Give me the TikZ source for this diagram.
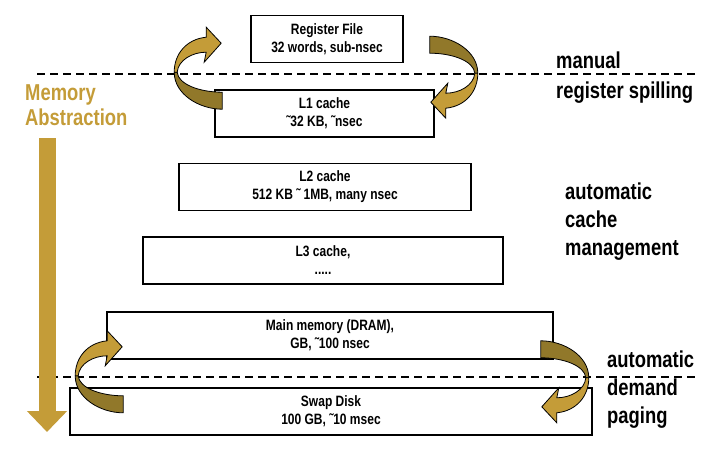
\documentclass[tikz,border=0pt]{standalone}
\usepackage{fontspec}
\setmainfont{Liberation Sans}[FakeStretch=0.8]
\usepackage{tikz}
\usetikzlibrary{arrows.meta}
\usetikzlibrary{calc}
\definecolor{gold}{RGB}{196,156,56}
\definecolor{darkgold}{RGB}{145,120,42}

\begin{document}
\begin{tikzpicture}
[
    x = 1pt, y = -1pt,
    every node/.append style = {font = \bfseries},
    tier/.style = {draw, line width = 1.6pt, align = center, inner sep = 0pt, minimum height = 47pt, font = \bfseries\fontsize{15}{18}\selectfont},
    remark/.style = {anchor = base west, align = left, inner sep = 0pt, font = \bfseries\fontsize{23}{28}\selectfont},
    border/.style = {line width = 1.5pt, dash pattern = on 8pt off 5pt},
    pics/spill/.style = {code = {
        \filldraw[fill = darkgold, line width = 0.8pt] (0,0) .. controls (0,22) and (25,37) .. (48,37) -- (48,20) .. controls (25,20) and (4,12) .. (3,0) -- cycle;
        \filldraw[fill = gold, line width = 0.8pt] (3,0) .. controls (4,-12) and (18,-20) .. (32,-20) -- (30,-10) -- (47,-29) -- (32,-45) -- (32,-35) .. controls (12,-33) and (0,-18) .. (0,0) -- cycle;
    }}
]
\useasboundingbox (0,0) rectangle (718,463);

% dashed borders
\draw[border] (37,74) -- (697,74);
\draw[border] (37,377) -- (697,377);

% hierarchy
\node[tier, minimum width = 152pt] (reg) at (327,39) {Register File\\32 words, sub-nsec};
\node[tier, minimum width = 219pt] (l1) at (324.5,113.5) {L1 cache\\˜32 KB, ˜nsec};
\node[tier, minimum width = 292pt] (l2) at (325,187) {L2 cache\\512 KB ˜ 1MB, many nsec};
\node[tier, minimum width = 360pt] (l3) at (323,260.5) {L3 cache,\\.....};
\node[tier, minimum width = 446pt] (main) at (330,335.5) {Main memory (DRAM),\\GB, ˜100 nsec};
\node[tier, minimum width = 522pt] (swap) at (331,411.5) {Swap Disk\\100 GB, ˜10 msec};

% spill arrows
\pic at ($(l1.north west)+(-40,-17)$) {spill};
\pic[rotate = 180] at ($(l1.north east)+(43,-16)$) {spill};
\pic at ($(main.south west)+(-31,16)$) {spill};
\pic[rotate = 180] at ($(main.south east)+(35,18)$) {spill};

% abstraction
\node[remark, text = gold, font = \bfseries\fontsize{23}{25}\selectfont] (memabs) at (25,125) {Memory\\Abstraction};
\coordinate (abstop) at (47,138);
\coordinate (absend) at (47,432);
\draw[gold, line width = 17pt, -{Triangle[width = 39pt, length = 21pt]}] (abstop) -- (absend);

% remarks
\node[remark] (spilling) at (556,98) {manual\\[2pt]register spilling};
\node[remark] (cachemgmt) at (565,255) {automatic\\cache\\management};
\node[remark] (paging) at (607,423) {automatic\\demand\\paging};

\end{tikzpicture}
\end{document}
